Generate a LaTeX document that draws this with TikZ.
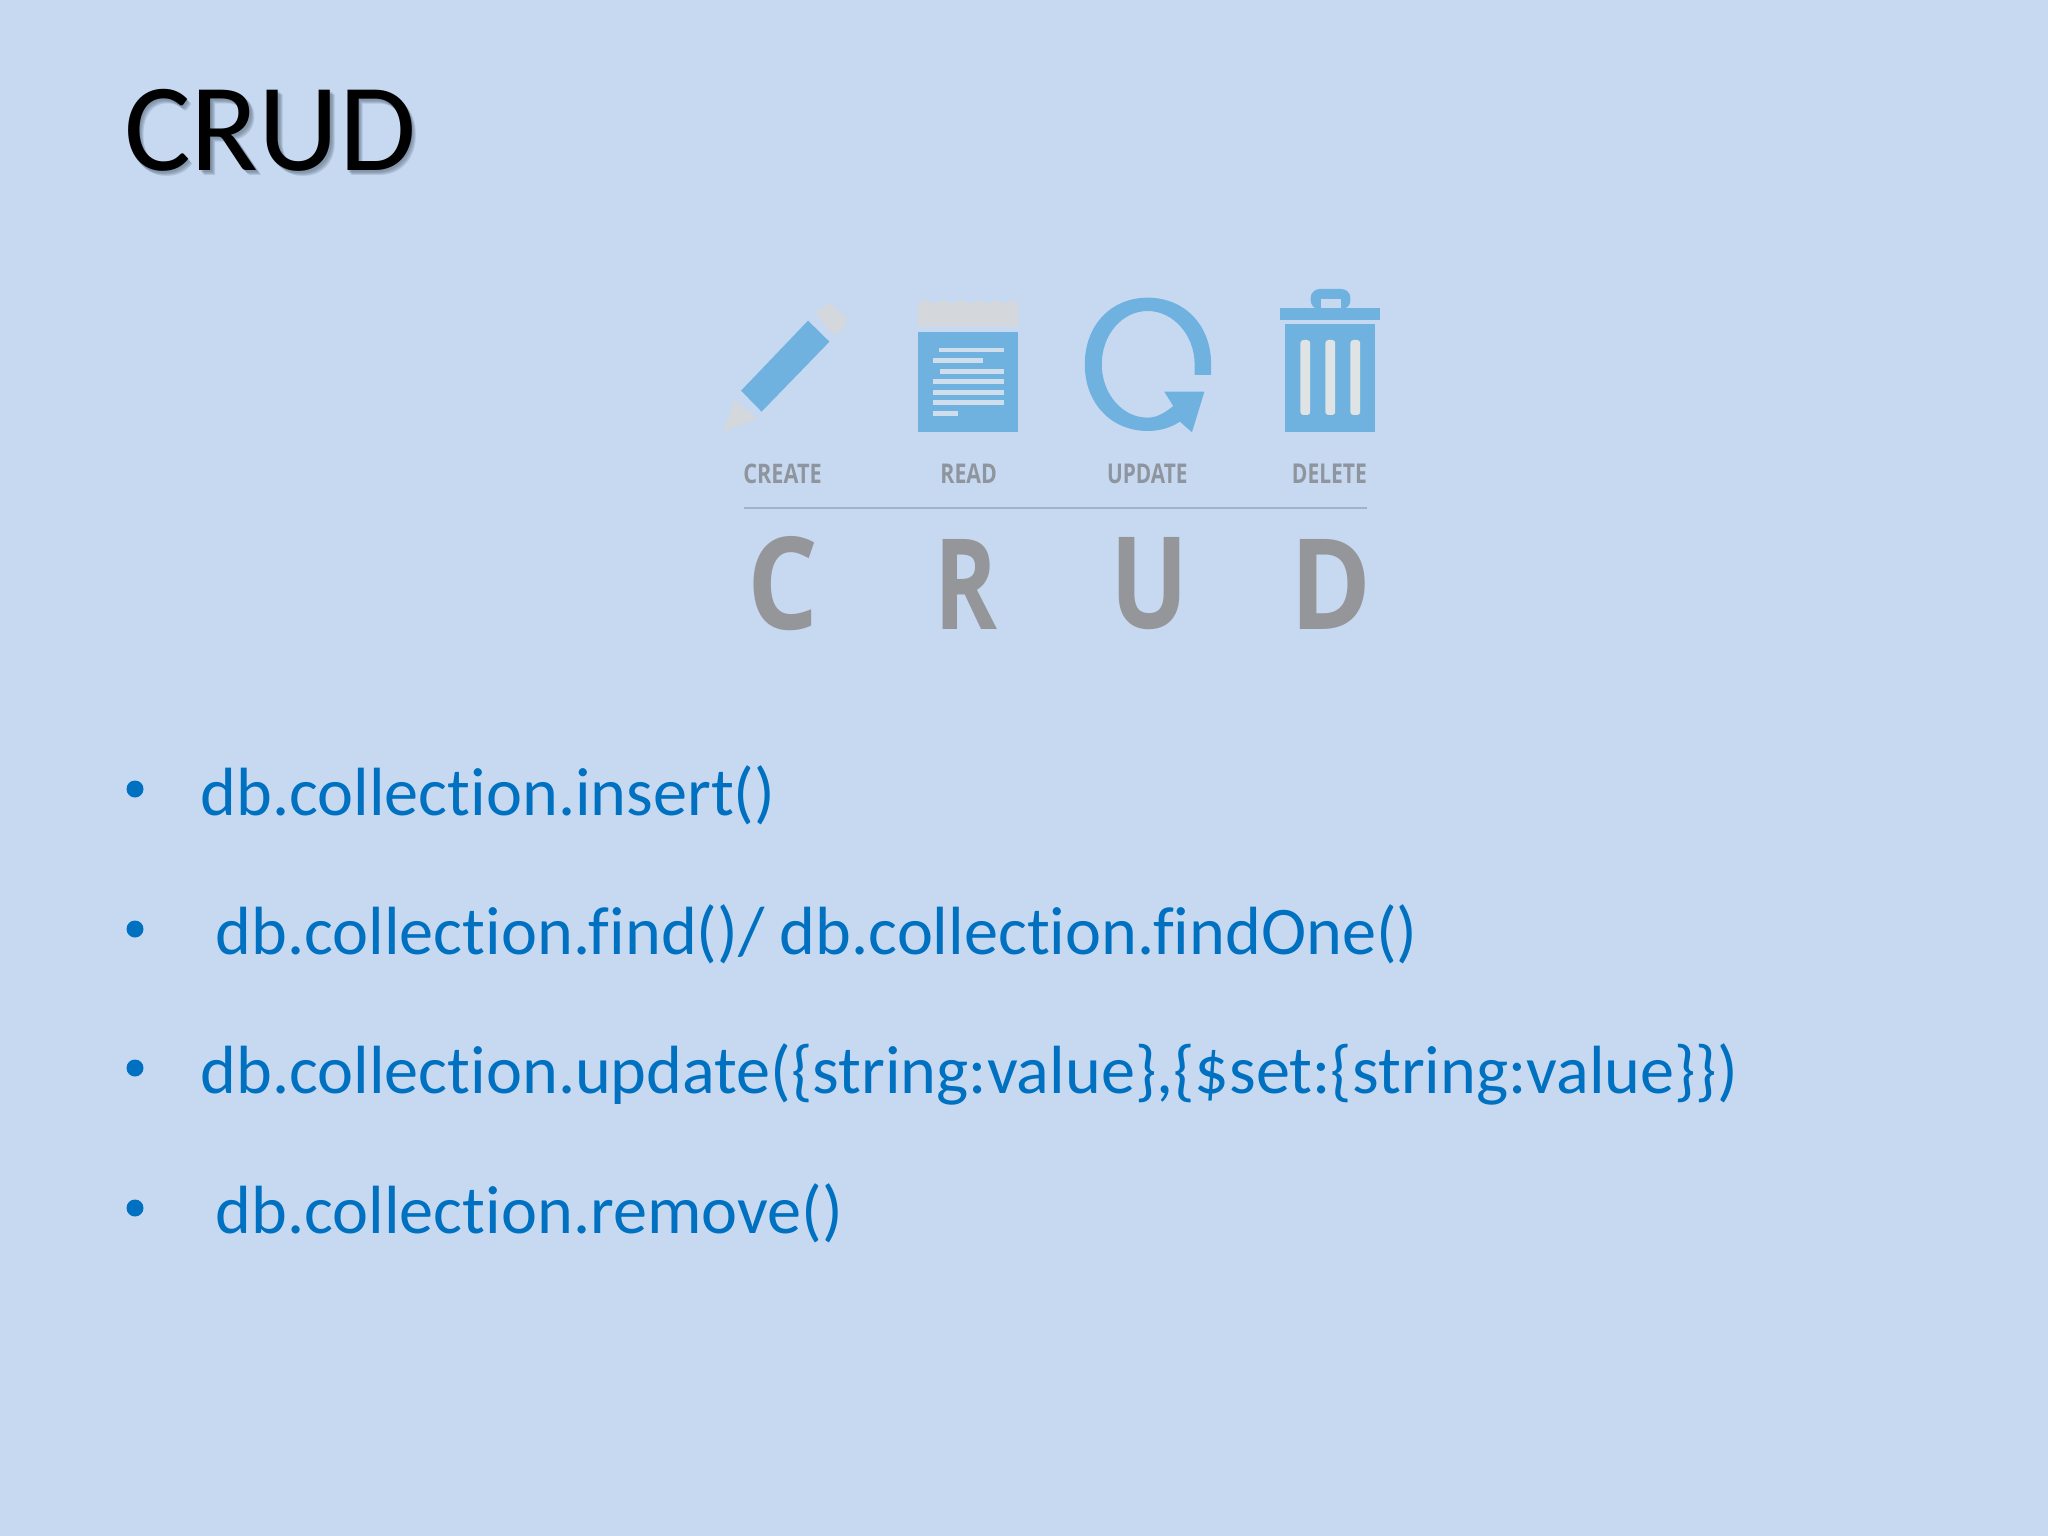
\documentclass[tikz,border=0pt]{standalone}
\usepackage{fontspec}
\setmainfont[Ligatures=NoCommon]{Carlito}
\newfontfamily\iconfont{Open Sans}
\definecolor{bgc}{HTML}{C6D9F1}
\definecolor{bodyc}{HTML}{0070C0}
\definecolor{iconblue}{HTML}{70B2DF}
\definecolor{icongray}{HTML}{D4D8DC}
\definecolor{barc}{HTML}{DFE3E3}
\definecolor{notec}{HTML}{CFDEEC}
\definecolor{biggray}{HTML}{95969A}
\definecolor{smallgray}{HTML}{8F959F}
\definecolor{rulec}{HTML}{9FB2CC}
\definecolor{shadowc}{HTML}{5F7186}
\tikzset{
  title/.style={anchor=base west,inner sep=0pt,font=\fontsize{125.2}{125}\selectfont},
  item/.style={anchor=base west,inner sep=0pt,text=bodyc,font=\fontsize{68.2}{68}\selectfont},
  bulletdot/.style={circle,fill=bodyc,inner sep=0pt,minimum size=17pt},
  iconlabel/.style={inner sep=0pt,text=smallgray,font=\iconfont\bfseries},
  bigletter/.style={inner sep=0pt,text=biggray,font=\iconfont\bfseries},
}
\begin{document}
\begin{tikzpicture}[x=1pt,y=-1pt]
\useasboundingbox (0,0) rectangle (2048,1536);
\fill[bgc] (0,0) rectangle (2048,1536);
% title with soft shadow
\foreach \d in {1.5,2.5,3.5,4.5}
  \node[title,text=shadowc,text opacity=0.22] (titleshadow\d) at (124+\d,171+\d) {CRUD};
\node[title] (title) at (124,171) {CRUD};
% list
\node[bulletdot] (b1) at (135,789) {};
\node[item] (t1) at (200.5,815.5) {db.collection.insert()};
\node[bulletdot] (b2) at (135,929) {};
\node[item] (t2) at (215.5,954.5) {db.collection.find()/ db.collection.findOne()};
\node[bulletdot] (b3) at (135,1068) {};
\node[item] (t3) at (200.5,1093.5) {db.collection.update(\{string:value\},\{\$set:\{string:value\}\})};
\node[bulletdot] (b4) at (135,1208) {};
\node[item] (t4) at (215.5,1233.5) {db.collection.remove()};
\begin{scope}[shift={(700,270)},x=0.4464pt,y=-0.3333pt]
  % pencil
  \fill[icongray] (258,130) -- (290,97) -- (328,145) -- (325,170) -- (300,195) -- cycle;
  \fill[iconblue] (242,152) -- (290,215) -- (138,425) -- (92,362) -- cycle;
  \fill[icongray] (78,390) -- (128,445) -- (52,485) -- cycle;
  % note pad
  \fill[icongray] (488,170) -- (488,100) -- (505,90) -- (525,100) -- (545,90) -- (565,100) -- (585,90) -- (605,100) -- (625,90) -- (645,100) -- (665,90) -- (685,100) -- (700,90) -- (713,100) -- (713,170) -- cycle;
  \fill[iconblue] (488,185) rectangle (713,486);
  \foreach \xa/\xb/\yy in {535/680/240,523/635/272,537/680/304,523/680/335,523/680/367,523/680/398,523/578/430}
    \fill[notec] (\xa,\yy-7) rectangle (\xb,\yy+7);
  % update arrow
  \fill[iconblue,even odd rule] (1145,315) -- (1145,283)
     .. controls (1145,165) and (1085,83) .. (1003,83)
     .. controls (921,83) and (862,165) .. (862,283)
     .. controls (862,400) and (921,483) .. (1003,483)
     .. controls (1030,483) and (1055,473) .. (1075,455)
     -- (1102,487) -- (1130,365) -- (1040,365) -- (1060,408)
     .. controls (1045,425) and (1025,443) .. (1003,443)
     .. controls (945,443) and (900,370) .. (900,283)
     .. controls (900,195) and (945,123) .. (1003,123)
     .. controls (1060,123) and (1108,195) .. (1108,283)
     -- (1108,315) -- cycle;
  % trash can
  \fill[iconblue,rounded corners=9pt] (1368,118) -- (1368,57) -- (1457,57) -- (1457,118) -- cycle;
  \fill[bgc] (1392,88) rectangle (1436,115);
  \fill[iconblue] (1300,115) rectangle (1523,150);
  \fill[iconblue] (1310,163) rectangle (1512,485);
  \foreach \xa in {1345,1401,1457}
    \fill[barc,rounded corners=3pt] (\xa,210) rectangle (\xa+22,435);
  % small labels
  \node[iconlabel] (lc) at (185,611) {\resizebox{78.5pt}{19.5pt}{CREATE}};
  \node[iconlabel] (lr) at (602,611) {\resizebox{56.5pt}{19.5pt}{READ}};
  \node[iconlabel] (lu) at (1002,611) {\resizebox{80.5pt}{19.5pt}{UPDATE}};
  \node[iconlabel] (ld) at (1410,611) {\resizebox{75pt}{19.5pt}{DELETE}};
  \coordinate (rl) at (98,714);
  \coordinate (rr) at (1495,714);
  \draw[rulec,line width=1.8pt] (rl) -- (rr);
  % large letters
  \node[bigletter] (bc) at (186,942) {\resizebox{71pt}{93pt}{C}};
  \node[bigletter] (br) at (595,942) {\resizebox{63pt}{90pt}{R}};
  \node[bigletter] (bu) at (1006,942) {\resizebox{78pt}{91pt}{U}};
  \node[bigletter] (bd) at (1414,942) {\resizebox{81pt}{90pt}{D}};
\end{scope}
\end{tikzpicture}
\end{document}
